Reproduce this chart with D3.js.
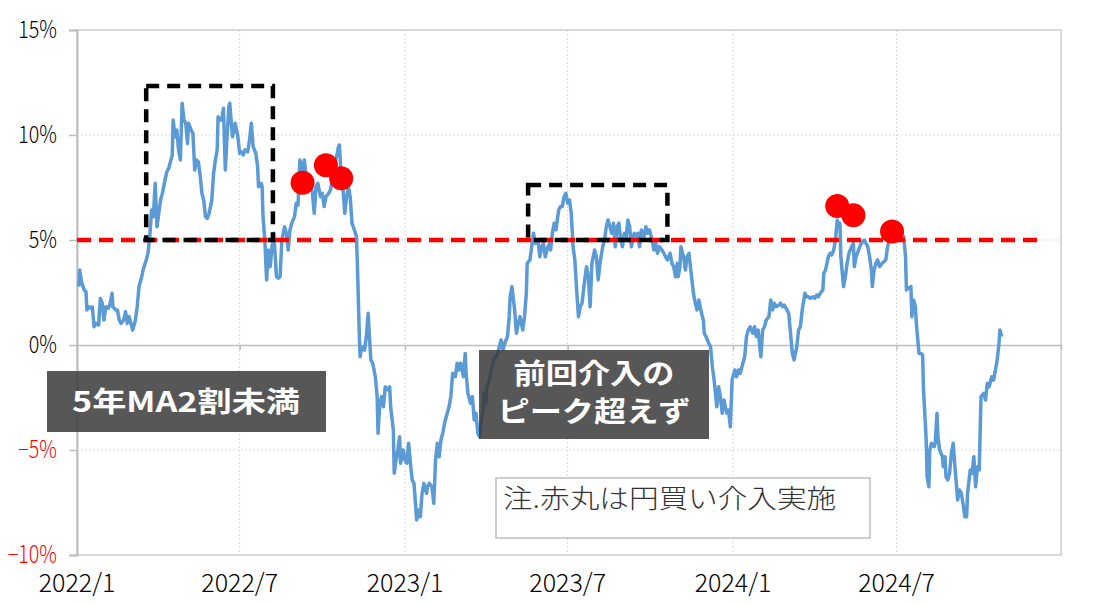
<!DOCTYPE html>
<html><head><meta charset="utf-8">
<script src="https://cdn.jsdelivr.net/npm/d3@7"></script>
<style>body{margin:0;background:#fff}svg{display:block}</style>
</head><body><svg id="chart" width="1102" height="604"></svg>
<script>
// ---- data ----
const dates = [
"2022-01-03","2022-01-04","2022-01-06","2022-01-09","2022-01-11","2022-01-12","2022-01-14","2022-01-16","2022-01-18","2022-01-20","2022-01-22","2022-01-25","2022-01-27","2022-01-29","2022-01-31",
"2022-02-02","2022-02-05","2022-02-07","2022-02-09","2022-02-10","2022-02-13","2022-02-15","2022-02-17","2022-02-19","2022-02-22","2022-02-24","2022-02-26","2022-02-28",
"2022-03-02","2022-03-04","2022-03-07","2022-03-09","2022-03-11","2022-03-14","2022-03-16","2022-03-19","2022-03-21","2022-03-23","2022-03-25","2022-03-27","2022-03-29","2022-03-31",
"2022-04-02","2022-04-04","2022-04-06","2022-04-09","2022-04-11","2022-04-13","2022-04-15","2022-04-17","2022-04-18","2022-04-20","2022-04-22","2022-04-24","2022-04-26","2022-04-28","2022-04-30",
"2022-05-02","2022-05-04","2022-05-05","2022-05-08","2022-05-10","2022-05-12","2022-05-14","2022-05-16","2022-05-18","2022-05-20","2022-05-22","2022-05-24","2022-05-26","2022-05-28","2022-05-31",
"2022-06-02","2022-06-04","2022-06-06","2022-06-07","2022-06-09","2022-06-11","2022-06-13","2022-06-15","2022-06-17","2022-06-19","2022-06-20","2022-06-23","2022-06-24","2022-06-26","2022-06-29",
"2022-07-01","2022-07-03","2022-07-05","2022-07-07","2022-07-10","2022-07-12","2022-07-14","2022-07-16","2022-07-19","2022-07-21","2022-07-22","2022-07-25","2022-07-26","2022-07-27","2022-07-29","2022-07-31",
"2022-08-02","2022-08-04","2022-08-06","2022-08-08","2022-08-11","2022-08-13","2022-08-15","2022-08-17","2022-08-20","2022-08-22","2022-08-24","2022-08-26","2022-08-28","2022-08-31",
"2022-09-02","2022-09-04","2022-09-06","2022-09-09","2022-09-11","2022-09-13","2022-09-17","2022-09-20","2022-09-22","2022-09-24","2022-09-26","2022-09-29",
"2022-10-01","2022-10-03","2022-10-05","2022-10-08","2022-10-10","2022-10-12","2022-10-14","2022-10-16","2022-10-19","2022-10-20","2022-10-22","2022-10-24","2022-10-26","2022-10-28","2022-10-30",
"2022-11-01","2022-11-03","2022-11-05","2022-11-08","2022-11-09","2022-11-11","2022-11-12","2022-11-14","2022-11-17","2022-11-19","2022-11-21","2022-11-22","2022-11-24","2022-11-26","2022-11-29",
"2022-12-01","2022-12-02","2022-12-04","2022-12-06","2022-12-08","2022-12-10","2022-12-13","2022-12-15","2022-12-16","2022-12-19","2022-12-20","2022-12-22","2022-12-24","2022-12-26","2022-12-27","2022-12-30",
"2023-01-01","2023-01-03","2023-01-05","2023-01-07","2023-01-09","2023-01-11","2023-01-14","2023-01-16","2023-01-18","2023-01-20","2023-01-22","2023-01-25","2023-01-26","2023-01-28","2023-01-31",
"2023-02-02","2023-02-04","2023-02-06","2023-02-08","2023-02-10","2023-02-12","2023-02-14","2023-02-17","2023-02-19","2023-02-21","2023-02-23","2023-02-26","2023-02-28",
"2023-03-02","2023-03-04","2023-03-07","2023-03-09","2023-03-10","2023-03-12","2023-03-15","2023-03-17","2023-03-19","2023-03-21","2023-03-23","2023-03-25","2023-03-27","2023-03-29","2023-03-30",
"2023-04-01","2023-04-02","2023-04-04","2023-04-07","2023-04-09","2023-04-11","2023-04-13","2023-04-16","2023-04-18","2023-04-20","2023-04-22","2023-04-25","2023-04-27","2023-04-28","2023-04-30",
"2023-05-03","2023-05-05","2023-05-07","2023-05-09","2023-05-12","2023-05-14","2023-05-16","2023-05-17","2023-05-20","2023-05-22","2023-05-24","2023-05-26","2023-05-29","2023-05-31",
"2023-06-02","2023-06-04","2023-06-06","2023-06-09","2023-06-11","2023-06-12","2023-06-14","2023-06-16","2023-06-18","2023-06-21","2023-06-23","2023-06-25","2023-06-27","2023-06-29",
"2023-07-01","2023-07-03","2023-07-05","2023-07-07","2023-07-09","2023-07-11","2023-07-13","2023-07-15","2023-07-17","2023-07-20","2023-07-22","2023-07-24","2023-07-26","2023-07-28","2023-07-31",
"2023-08-02","2023-08-04","2023-08-06","2023-08-09","2023-08-11","2023-08-13","2023-08-15","2023-08-17","2023-08-19","2023-08-21","2023-08-23","2023-08-25","2023-08-27","2023-08-29","2023-08-31",
"2023-09-02","2023-09-04","2023-09-06","2023-09-08","2023-09-10","2023-09-13","2023-09-15","2023-09-17","2023-09-19","2023-09-21","2023-09-24","2023-09-26","2023-09-28","2023-09-30",
"2023-10-03","2023-10-05","2023-10-07","2023-10-09","2023-10-11","2023-10-14","2023-10-16","2023-10-18","2023-10-20","2023-10-23","2023-10-25","2023-10-27","2023-10-29","2023-10-31",
"2023-11-01","2023-11-03","2023-11-04","2023-11-07","2023-11-09","2023-11-11","2023-11-13","2023-11-15","2023-11-18","2023-11-20","2023-11-22","2023-11-24","2023-11-27","2023-11-29","2023-11-30",
"2023-12-02","2023-12-05","2023-12-07","2023-12-09","2023-12-11","2023-12-14","2023-12-16","2023-12-18","2023-12-20","2023-12-22","2023-12-25","2023-12-27","2023-12-29","2023-12-31",
"2024-01-03","2024-01-05","2024-01-07","2024-01-09","2024-01-12","2024-01-14","2024-01-16","2024-01-18","2024-01-20","2024-01-23","2024-01-25","2024-01-27","2024-01-29",
"2024-02-01","2024-02-03","2024-02-05","2024-02-07","2024-02-10","2024-02-12","2024-02-14","2024-02-16","2024-02-18","2024-02-21","2024-02-23","2024-02-25","2024-02-27",
"2024-03-01","2024-03-03","2024-03-05","2024-03-07","2024-03-09","2024-03-12","2024-03-14","2024-03-16","2024-03-18","2024-03-21","2024-03-23","2024-03-25","2024-03-27","2024-03-30",
"2024-04-01","2024-04-03","2024-04-05","2024-04-07","2024-04-10","2024-04-11","2024-04-13","2024-04-16","2024-04-18","2024-04-20","2024-04-22","2024-04-24","2024-04-26","2024-04-27","2024-04-29","2024-04-30",
"2024-05-03","2024-05-05","2024-05-07","2024-05-09","2024-05-12","2024-05-14","2024-05-15","2024-05-17","2024-05-19","2024-05-21","2024-05-23","2024-05-26","2024-05-28","2024-05-30",
"2024-06-01","2024-06-03","2024-06-04","2024-06-06","2024-06-08","2024-06-10","2024-06-12","2024-06-15","2024-06-17","2024-06-19","2024-06-21","2024-06-23","2024-06-25","2024-06-28",
"2024-07-02","2024-07-06","2024-07-09","2024-07-11","2024-07-12","2024-07-14","2024-07-17","2024-07-18","2024-07-20","2024-07-22","2024-07-23","2024-07-26","2024-07-28","2024-07-30","2024-07-31",
"2024-08-03","2024-08-04","2024-08-06","2024-08-07","2024-08-09","2024-08-12","2024-08-13","2024-08-15","2024-08-16","2024-08-18","2024-08-21","2024-08-22","2024-08-24","2024-08-25","2024-08-27","2024-08-29","2024-08-31",
"2024-09-02","2024-09-04","2024-09-07","2024-09-09","2024-09-11","2024-09-13","2024-09-15","2024-09-17","2024-09-18","2024-09-21","2024-09-23","2024-09-25","2024-09-27","2024-09-29",
"2024-10-01","2024-10-03","2024-10-06","2024-10-08","2024-10-10","2024-10-12","2024-10-15","2024-10-17","2024-10-19","2024-10-21","2024-10-23","2024-10-24","2024-10-26"
];
const values = [
2.78,3.57,3.01,2.62,2.54,1.67,1.82,1.75,1.82,0.87,1.03,0.95,2.22,1.99,1.19,
1.82,1.75,1.99,2.46,1.82,1.67,1.67,1.19,1.03,1.19,1.59,1.03,1.35,
1.03,0.71,1.19,1.82,2.78,3.25,3.65,4.05,4.37,5.16,6.43,6.11,7.70,5.63,
6.27,6.90,7.22,7.86,8.25,8.41,8.73,9.05,10.71,9.92,10.24,9.29,8.81,11.51,10.71,
10.56,9.60,10.56,10.24,10.08,8.33,8.81,8.73,8.10,7.22,6.90,6.11,6.03,6.27,6.90,
8.18,8.81,9.29,10.87,10.71,10.71,11.27,8.33,9.92,11.35,11.51,9.92,10.08,10.56,9.92,
9.13,9.20,9.05,9.29,9.20,9.76,10.56,9.44,9.13,8.49,7.54,7.70,7.54,6.11,5.00,3.10,
4.52,3.73,4.68,5.32,3.25,3.18,3.25,5.00,5.63,5.32,4.52,5.48,5.80,6.11,
6.75,6.67,8.81,8.33,8.81,8.01,7.86,7.22,6.27,7.54,7.70,7.06,
7.22,6.59,7.06,7.22,7.38,7.86,8.49,8.81,9.44,9.52,8.01,7.38,6.27,7.06,7.54,
7.06,5.80,5.56,5.16,3.89,0.71,-0.56,-0.08,-0.24,0.40,1.51,0.71,-0.71,-0.87,-1.51,
-2.46,-4.20,-2.78,-2.46,-2.94,-1.99,-2.14,-1.99,-2.94,-4.05,-6.11,-5.48,-5.00,-4.37,-5.63,-5.00,
-5.48,-5.63,-4.68,-5.63,-6.43,-6.59,-8.33,-7.86,-8.18,-7.06,-6.59,-7.06,-6.75,-6.59,-6.75,
-7.54,-5.48,-4.68,-5.32,-4.52,-4.20,-3.73,-3.25,-2.94,-2.46,-1.35,-1.51,-0.87,
-1.19,-0.87,-1.51,-0.40,-1.35,-2.30,-2.78,-2.46,-3.57,-3.25,-4.20,-4.37,-3.57,-3.10,-2.30,
-2.78,-1.99,-1.82,-1.19,-0.87,-0.56,-0.56,-0.08,0.24,-0.24,0.08,0.40,1.35,2.30,2.78,
1.67,0.56,1.03,1.35,0.71,1.35,2.46,3.89,4.05,4.68,5.32,4.84,5.00,4.20,
4.68,4.84,4.20,4.68,4.84,4.52,5.32,5.80,5.48,6.43,6.59,6.59,7.06,7.22,
6.75,6.90,6.27,4.68,4.05,2.62,1.35,1.82,1.99,3.10,3.73,3.25,1.82,3.89,4.52,
4.20,3.10,3.89,4.68,5.00,5.63,5.95,5.63,5.32,5.80,4.68,5.63,5.80,5.00,4.68,
5.32,5.00,5.95,5.63,4.68,5.32,5.00,5.32,4.68,5.48,5.16,5.63,5.32,5.48,
5.00,4.52,4.84,4.37,4.68,4.52,4.37,4.20,4.05,4.37,3.89,3.73,3.25,3.89,
3.25,3.73,4.68,4.20,3.57,4.20,4.37,3.57,2.46,1.99,1.67,2.14,1.51,1.19,0.56,
0.40,0.08,-0.08,-1.03,-1.67,-2.94,-1.99,-2.46,-3.25,-2.62,-3.25,-3.10,-3.89,-1.67,
-1.19,-1.51,-1.19,-1.35,-0.87,-0.56,0.40,0.71,0.87,0.56,0.87,0.40,0.71,
-0.56,0.71,0.87,1.19,1.35,2.14,1.67,1.99,1.82,1.90,1.99,1.82,1.90,
1.67,1.51,0.56,-0.40,-0.71,-0.08,0.71,0.87,1.67,2.46,2.30,2.30,2.22,2.30,
2.22,2.38,2.30,2.46,2.62,3.41,3.57,4.20,4.37,4.29,4.52,5.00,5.95,5.63,5.80,4.20,
2.78,3.25,3.89,4.37,4.68,4.84,3.73,4.20,4.44,4.68,4.84,5.00,4.84,4.68,
4.20,3.57,2.78,3.57,3.89,4.05,3.73,3.89,3.97,4.05,4.68,5.00,5.16,5.16,
5.08,5.08,5.16,4.20,2.62,2.70,2.78,1.35,2.14,1.82,1.03,-0.40,-0.40,-0.48,-2.14,
-4.52,-6.27,-6.75,-5.00,-4.68,-4.84,-4.68,-3.25,-4.37,-5.00,-5.32,-5.80,-5.32,-6.27,-6.43,-6.11,-5.16,
-4.68,-5.80,-7.38,-6.90,-7.06,-7.54,-8.18,-8.18,-7.06,-5.95,-6.11,-5.32,-6.75,-5.80,
-5.95,-2.46,-2.30,-2.62,-1.82,-1.99,-1.51,-1.67,-1.19,-0.71,0.08,0.71,0.40
];
// intervention markers (red circles)
const interventionDates = ["2022-09-09","2022-10-05","2022-10-22","2024-04-26","2024-05-14","2024-06-26"];
const interventionValues = [7.73,8.56,7.94,6.62,6.18,5.40];
// 5-year MA +20% threshold
const thresholdValue = 5;
const thresholdSpan = ["2022-01-01","2024-12-11"];
// highlighted periods (dashed boxes)
const boxStarts = ["2022-03-19","2023-05-18"];
const boxEnds   = ["2022-08-07","2023-10-20"];
const boxLows   = [5, 5];
const boxHighs  = [12.33, 7.62];
// axes
const yTicks = [-10,-5,0,5,10,15];
const yTickLabels = ["−10%","−5%","0%","5%","10%","15%"];
const xTickDates = ["2022-01-01","2022-07-01","2023-01-01","2023-07-01","2024-01-01","2024-07-01"];
const xTickLabels = ["2022/1","2022/7","2023/1","2023/7","2024/1","2024/7"];
const xDomain = ["2022-01-01","2024-12-31"];
// annotations
const label1 = ["5年MA2割未満"];
const label2 = ["前回介入の","ピーク超えず"];
const noteText = "注.赤丸は円買い介入実施";

// ---- drawing ----
const parse = d3.timeParse("%Y-%m-%d");
const svg = d3.select("#chart");
const L = 77, R = 1061, T = 30, B = 555;
const x = d3.scaleTime().domain(xDomain.map(parse)).range([L, R]);
const y = d3.scaleLinear().domain([-10, 15]).range([B, T]);
const font = "'Noto Sans CJK JP','Noto Sans',sans-serif";

// grid
const grid = svg.append("g");
grid.selectAll(".hg").data(yTicks.filter(v => v !== 0 && v !== -10 && v !== 15)).join("line")
  .attr("x1", L).attr("x2", R).attr("y1", d => y(d)).attr("y2", d => y(d))
  .attr("stroke", "#d9d9d9").attr("stroke-width", 1).attr("stroke-dasharray", "2,2");
grid.selectAll(".vg").data(xTickDates.slice(1)).join("line")
  .attr("x1", d => x(parse(d))).attr("x2", d => x(parse(d))).attr("y1", T).attr("y2", B)
  .attr("stroke", "#d9d9d9").attr("stroke-width", 1).attr("stroke-dasharray", "2,2");
svg.append("rect").attr("x", L).attr("y", T).attr("width", R - L).attr("height", B - T)
  .attr("fill", "none").attr("stroke", "#d9d9d9").attr("stroke-width", 2);

// y axis
const ySx = 0.82;
const yAxis = svg.append("g").attr("transform", `translate(${L},0)`)
  .call(d3.axisLeft(y).tickValues(yTicks).tickSize(8).tickPadding(12)
    .tickFormat(d => yTickLabels[yTicks.indexOf(d)]));
yAxis.select(".domain").attr("stroke", "#bfbfbf").attr("stroke-width", 2);
yAxis.selectAll(".tick line").attr("stroke", "#bfbfbf").attr("stroke-width", 1.5);
yAxis.selectAll(".tick text").attr("font-family", font).attr("font-size", 24).attr("font-weight", 300)
  .attr("x", -20 / ySx).attr("transform", `scale(${ySx},1)`)
  .attr("fill", d => d < 0 ? "#ff0000" : "#000");

// zero line with category ticks
const xAxis = svg.append("g").attr("transform", `translate(0,${y(0)})`)
  .call(d3.axisBottom(x).tickValues(xTickDates.map(parse)).tickSize(5).tickFormat(""));
xAxis.select(".domain").attr("stroke", "#bfbfbf").attr("stroke-width", 1.5);
xAxis.selectAll(".tick line").attr("stroke", "#bfbfbf").attr("stroke-width", 1.5);
svg.append("g").selectAll("text").data(xTickDates).join("text")
  .attr("x", d => x(parse(d))).attr("y", 592)
  .attr("text-anchor", "middle").attr("font-family", font).attr("font-size", 25).attr("font-weight", 300)
  .attr("fill", "#000").text((d, i) => xTickLabels[i]);

// main line
const series = dates.map((d, i) => ({ date: parse(d), v: values[i] }));
svg.append("path").datum(series)
  .attr("d", d3.line().x(d => x(d.date)).y(d => y(d.v)))
  .attr("fill", "none").attr("stroke", "#5b9bd5").attr("stroke-width", 3.5)
  .attr("stroke-linejoin", "round");

// threshold line
svg.append("line")
  .attr("x1", x(parse(thresholdSpan[0]))).attr("x2", x(parse(thresholdSpan[1])))
  .attr("y1", y(thresholdValue)).attr("y2", y(thresholdValue))
  .attr("stroke", "#ff0000").attr("stroke-width", 4.5).attr("stroke-dasharray", "14,8");

// dashed boxes
svg.append("g").selectAll("rect").data(boxStarts).join("rect")
  .attr("x", d => x(parse(d)))
  .attr("y", (d, i) => y(boxHighs[i]))
  .attr("width", (d, i) => x(parse(boxEnds[i])) - x(parse(d)))
  .attr("height", (d, i) => y(boxLows[i]) - y(boxHighs[i]))
  .attr("fill", "none").attr("stroke", "#000").attr("stroke-width", 4.5)
  .attr("stroke-dasharray", "13,8");

// intervention circles
svg.append("g").selectAll("circle").data(interventionDates).join("circle")
  .attr("cx", d => x(parse(d))).attr("cy", (d, i) => y(interventionValues[i]))
  .attr("r", 12).attr("fill", "#ff0000");

// annotation boxes
function stretchedText(g, str, cx, base, size, weight, fill, sx, anchor) {
  g.append("text").attr("transform", `translate(${cx},${base}) scale(${sx},1)`)
    .attr("text-anchor", anchor || "middle").attr("font-family", font).attr("font-size", size)
    .attr("font-weight", weight).attr("fill", fill).text(str);
}
const a1 = svg.append("g");
a1.append("rect").attr("x", 47).attr("y", 371).attr("width", 279).attr("height", 61)
  .attr("fill", "#3a3a3a").attr("fill-opacity", 0.85);
stretchedText(a1, label1[0], 186, 412, 28, 700, "#fff", 1.22);

const a2 = svg.append("g");
a2.append("rect").attr("x", 479).attr("y", 350).attr("width", 230).attr("height", 89)
  .attr("fill", "#3a3a3a").attr("fill-opacity", 0.85);
stretchedText(a2, label2[0], 594, 384, 28, 700, "#fff", 1.15);
stretchedText(a2, label2[1], 594, 422, 28, 700, "#fff", 1.15);

const a3 = svg.append("g");
a3.append("rect").attr("x", 496).attr("y", 478).attr("width", 374).attr("height", 60)
  .attr("fill", "#fff").attr("stroke", "#bfbfbf").attr("stroke-width", 1.5);
stretchedText(a3, noteText, 503, 508, 26, 300, "#333", 1.14, "start");
</script>
</body></html>
